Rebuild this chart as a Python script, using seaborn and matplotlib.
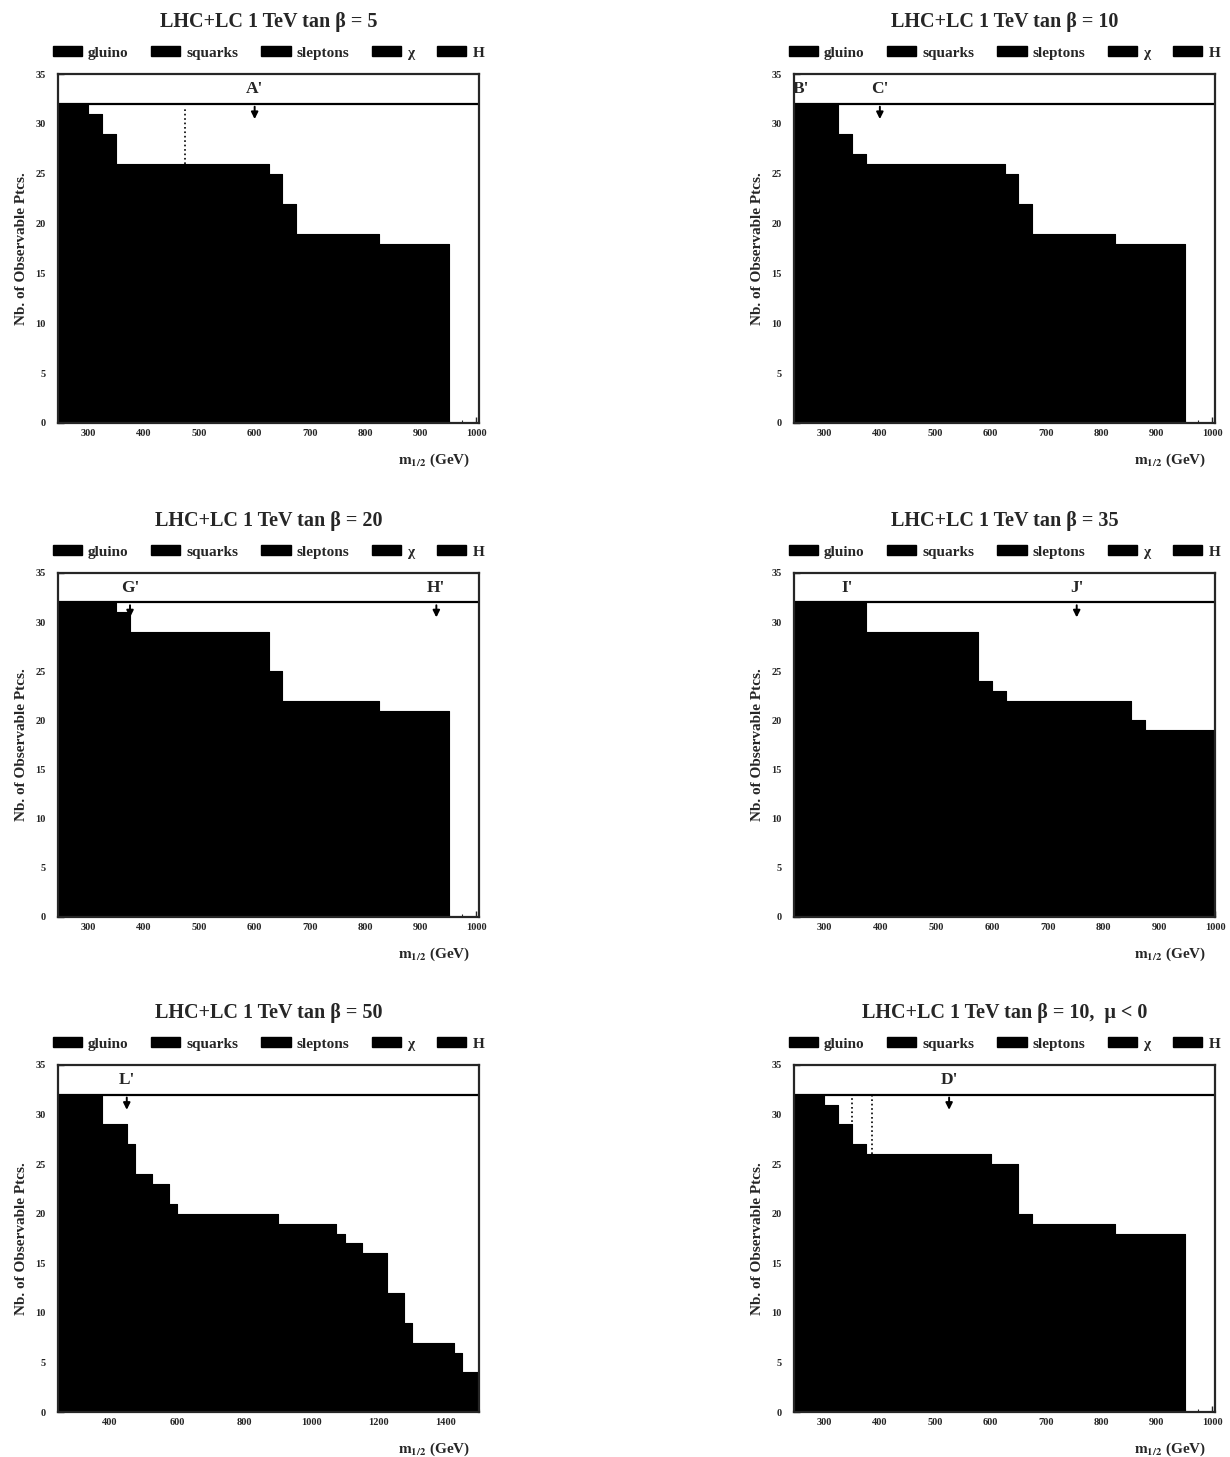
import numpy as np
import pandas as pd
import seaborn as sns
import matplotlib
matplotlib.use("Agg")
import matplotlib.pyplot as plt
from matplotlib.patches import Patch
from matplotlib.ticker import MultipleLocator

# ---------------- data ----------------
titles = [
    "LHC+LC 1 TeV tan β = 5",
    "LHC+LC 1 TeV tan β = 10",
    "LHC+LC 1 TeV tan β = 20",
    "LHC+LC 1 TeV tan β = 35",
    "LHC+LC 1 TeV tan β = 50",
    "LHC+LC 1 TeV tan β = 10,  μ < 0",
]
legend_labels = ["gluino", "squarks", "sleptons", "χ", "H"]

# bin edges of m_1/2 (GeV) and number of observable particles per bin
p1_edges = [245, 300, 325, 350, 625, 650, 675, 825, 950]
p1_counts = [32, 31, 29, 26, 25, 22, 19, 18]
p2_edges = [245, 325, 350, 375, 625, 650, 675, 825, 950]
p2_counts = [32, 29, 27, 26, 25, 22, 19, 18]
p3_edges = [245, 350, 375, 625, 650, 825, 950]
p3_counts = [32, 31, 29, 25, 22, 21]
p4_edges = [245, 375, 575, 600, 625, 850, 875, 1000]
p4_counts = [32, 29, 24, 23, 22, 20, 19]
p5_edges = [245, 375, 450, 475, 525, 575, 600, 900, 1075, 1100, 1150, 1225,
            1275, 1300, 1425, 1450, 1500]
p5_counts = [32, 29, 27, 24, 23, 21, 20, 19, 18, 17, 16, 12, 9, 7, 6, 4]
p6_edges = [245, 300, 325, 350, 375, 600, 650, 675, 825, 950]
p6_counts = [32, 31, 29, 27, 26, 25, 20, 19, 18]

x_limits = [(245, 1005), (245, 1005), (245, 1005), (245, 1000), (245, 1500), (245, 1005)]
x_ticks = [list(range(300, 1001, 100))] * 4 + [list(range(400, 1401, 200))] + [list(range(300, 1001, 100))]

# benchmark point labels (name, m_1/2, draw arrow)
p1_marks = [("A'", 600, True)]
p2_marks = [("B'", 258, False), ("C'", 400, True)]
p3_marks = [("G'", 375, True), ("H'", 928, True)]
p4_marks = [("I'", 340, False), ("J'", 752, True)]
p5_marks = [("L'", 450, True)]
p6_marks = [("D'", 525, True)]
dotted_lines = [[(474, 26, 31.7)], [], [], [], [], [(350, 27, 32), (385, 26, 32)]]

edges_all = [p1_edges, p2_edges, p3_edges, p4_edges, p5_edges, p6_edges]
counts_all = [p1_counts, p2_counts, p3_counts, p4_counts, p5_counts, p6_counts]
marks_all = [p1_marks, p2_marks, p3_marks, p4_marks, p5_marks, p6_marks]

# ---------------- style ----------------
sns.set_style("ticks")
plt.rcParams["font.family"] = ["Liberation Serif", "DejaVu Serif"]
plt.rcParams["font.weight"] = "bold"
plt.rcParams["mathtext.fontset"] = "stix"
plt.rcParams["axes.linewidth"] = 1.6
plt.rcParams["xtick.direction"] = "in"
plt.rcParams["ytick.direction"] = "in"

fig = plt.figure(figsize=(12.30, 14.57), dpi=100)
W, H = 1230, 1457
col_x = [58, 794]
col_w = 421
rows = [(74, 423), (573, 917), (1065, 1412)]

for i in range(6):
    r, c = divmod(i, 2)
    top, bot = rows[r]
    ax_h = bot - top
    ax = fig.add_axes([col_x[c] / W, 1 - bot / H, col_w / W, ax_h / H])
    edges = edges_all[i]
    counts = counts_all[i]
    centers = [(a + b) / 2 for a, b in zip(edges[:-1], edges[1:])]
    df = pd.DataFrame({"m12": centers, "n": counts})
    sns.histplot(data=df, x="m12", weights="n", bins=edges, element="step",
                 fill=True, color="black", alpha=1.0, linewidth=0.8,
                 edgecolor="black", ax=ax)
    ax.set_xlim(*x_limits[i])
    ax.set_ylim(0, 35)
    ax.set_xticks(x_ticks[i])
    ax.set_yticks(range(0, 36, 5))
    ax.xaxis.set_minor_locator(MultipleLocator(25 if i != 4 else 50))
    ax.tick_params(axis="both", which="major", labelsize=7.5, length=4, width=1)
    ax.tick_params(axis="both", which="minor", length=2, width=0.8)
    for lab in ax.get_xticklabels() + ax.get_yticklabels():
        lab.set_fontweight("bold")
    ax.tick_params(axis="x", pad=4)
    ax.tick_params(axis="y", pad=9)
    # box region
    ax.axhline(32, color="black", lw=1.6)
    for name, xm, arrow in marks_all[i]:
        ax.text(xm, 33.5, name, ha="center", va="center", fontsize=12.5,
                fontweight="bold")
        if arrow:
            ax.annotate("", xy=(xm, 30.2), xytext=(xm, 32),
                        arrowprops=dict(arrowstyle="-|>", color="black",
                                        lw=1.4, mutation_scale=10))
    for xm, y0, y1 in dotted_lines[i]:
        ax.vlines(xm, y0, y1, colors="black", linestyles=":", lw=1.2)
    ax.set_title(titles[i], fontsize=14.5, fontweight="bold", pad=34)
    handles = [Patch(facecolor="black", edgecolor="black") for _ in legend_labels]
    ax.legend(handles, legend_labels, loc="center",
              bbox_to_anchor=(0.5, 1 + 21 / ax_h),
              ncol=5, frameon=False, handlelength=1.9,
              handleheight=0.6, handletextpad=0.4, columnspacing=1.5,
              borderaxespad=0, borderpad=0,
              prop={"weight": "bold", "size": 11})
    ax.set_ylabel("Nb. of Observable Ptcs.", fontsize=11, fontweight="bold", labelpad=5)
    ax.set_xlabel(r"$\mathbf{m}_{\mathbf{1/2}}$ (GeV)", fontsize=11,
                  fontweight="bold")
    ax.xaxis.set_label_coords(0.98, -37 / ax_h)
    ax.xaxis.label.set_horizontalalignment("right")
    ax.xaxis.label.set_verticalalignment("center")

fig.savefig("out.png", dpi=100, facecolor="white")
